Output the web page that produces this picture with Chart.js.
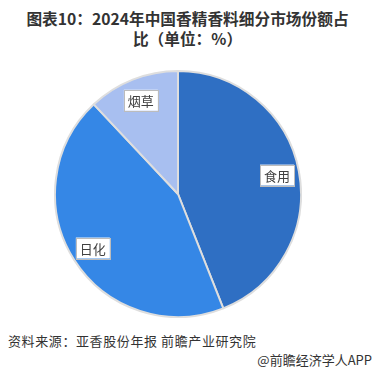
<!DOCTYPE html>
<html lang="zh">
<head>
  <meta charset="UTF-8" />
  <title>2024年中国香精香料细分市场份额占比</title>
  <script src="https://cdn.jsdelivr.net/npm/chart.js"></script>
  <style>
    body { margin: 0; width: 375px; height: 373px; background: #fff; position: relative; overflow: hidden; font-family: "Noto Sans CJK SC", sans-serif; }
    .title { position: absolute; left: 0; top: 9px; width: 375px; text-align: center; font-size: 15.7px; font-weight: bold; line-height: 20px; color: #333; }
    .chart-box { position: absolute; left: 54px; top: 70px; width: 248px; height: 248px; }
    .source { position: absolute; left: 8px; top: 331px; font-size: 13px; color: #333; letter-spacing: 0.6px; }
    .mark { position: absolute; right: 3px; top: 350px; font-size: 13px; color: #333; }
  </style>
</head>
<body>
  <div class="title">图表10：2024年中国香精香料细分市场份额占<br>比（单位：%）</div>
  <div class="chart-box"><canvas id="pie"></canvas></div>
  <div class="source">资料来源：亚香股份年报 前瞻产业研究院</div>
  <div class="mark">@前瞻经济学人APP</div>
  <script>
    const categories = ['食用', '日化', '烟草'];
    const shares = [44, 44, 12];
    const colors = ['#2f6fc3', '#3587e6', '#a8bff0'];

    // draw the category names in small boxed labels on each slice
    const boxLabels = {
      id: 'boxLabels',
      afterDatasetsDraw(chart) {
        const ctx = chart.ctx;
        const meta = chart.getDatasetMeta(0);
        ctx.save();
        ctx.font = '13px "Noto Sans CJK SC", sans-serif';
        ctx.textAlign = 'center';
        ctx.textBaseline = 'middle';
        meta.data.forEach((arc, i) => {
          const p = arc.getProps(['x', 'y', 'startAngle', 'endAngle', 'outerRadius']);
          const mid = (p.startAngle + p.endAngle) / 2;
          const r = p.outerRadius * 0.82;
          const x = p.x + Math.cos(mid) * r;
          const y = p.y + Math.sin(mid) * r;
          const w = ctx.measureText(categories[i]).width + 8;
          const h = 21;
          ctx.fillStyle = '#fff';
          ctx.fillRect(x - w / 2, y - h / 2, w, h);
          ctx.strokeStyle = '#bcbcbc';
          ctx.lineWidth = 1;
          ctx.strokeRect(Math.round(x - w / 2) + 0.5, Math.round(y - h / 2) + 0.5, Math.round(w), h);
          ctx.fillStyle = '#404040';
          ctx.fillText(categories[i], x, y + 1);
        });
        ctx.restore();
      }
    };

    new Chart(document.getElementById('pie'), {
      type: 'pie',
      data: {
        labels: categories,
        datasets: [{
          data: shares,
          backgroundColor: colors,
          borderColor: '#dedede',
          borderWidth: 2
        }]
      },
      options: {
        responsive: true,
        maintainAspectRatio: false,
        animation: false,
        layout: { padding: 0 },
        plugins: { legend: { display: false }, tooltip: { enabled: false } }
      },
      plugins: [boxLabels]
    });
  </script>
</body>
</html>
